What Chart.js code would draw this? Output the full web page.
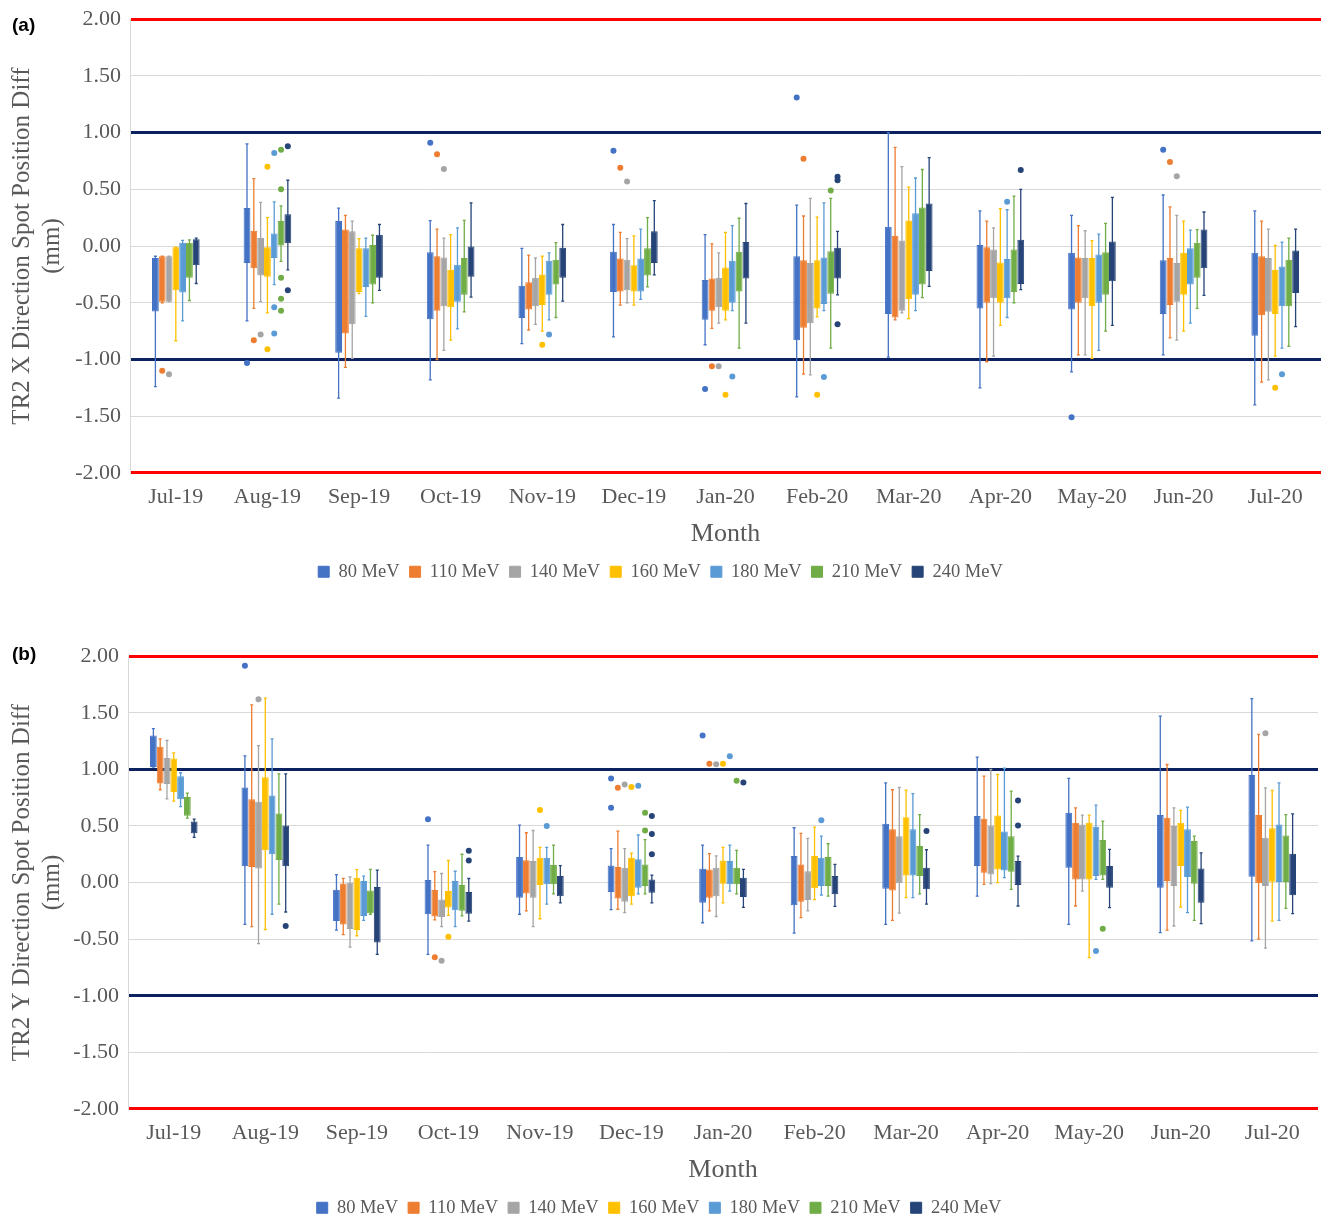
<!DOCTYPE html>
<html>
<head>
<meta charset="utf-8">
<script src="https://cdn.jsdelivr.net/npm/chart.js@4.4.1/dist/chart.umd.min.js"></script>
<style>
  body { margin: 0; background: #fff; overflow: hidden; }
  #wrap { position: relative; width: 1333px; height: 1217px; overflow: hidden; }
  canvas { position: absolute; left: 0; }
  .tag { position: absolute; left: 12px; font: bold 19px 'Liberation Sans', Arial, sans-serif; color: #000; }
</style>
</head>
<body>
<div id="wrap">
  <canvas id="chartX" width="1333" height="598" style="top:-3px"></canvas>
  <canvas id="chartY" width="1333" height="597" style="top:634px"></canvas>
  <div class="tag" style="top:14px">(a)</div>
  <div class="tag" style="top:643px">(b)</div>
</div>
<script>
const months = ['Jul-19', 'Aug-19', 'Sep-19', 'Oct-19', 'Nov-19', 'Dec-19', 'Jan-20',
  'Feb-20', 'Mar-20', 'Apr-20', 'May-20', 'Jun-20', 'Jul-20'];
const energies = ['80 MeV', '110 MeV', '140 MeV', '160 MeV', '180 MeV', '210 MeV', '240 MeV'];
const colors = ['#4472c4', '#ed7d31', '#a5a5a5', '#ffc000', '#5b9bd5', '#70ad47', '#264478'];

// (a) X direction - one row per energy, one value per month
const xHigh = [
  [-0.09, 0.90, 0.335, 0.225, -0.02, 0.19, 0.10, 0.36, 1.00, 0.31, 0.27, 0.45, 0.31],
  [-0.09, 0.594, 0.27, 0.15, -0.08, 0.12, 0.02, 0.265, 0.87, 0.22, 0.18, 0.345, 0.22],
  [-0.09, 0.385, 0.22, 0.07, -0.105, 0.065, -0.06, 0.42, 0.70, 0.16, 0.135, 0.27, 0.15],
  [-0.01, 0.25, 0.065, 0.10, -0.09, 0.09, 0.12, 0.255, 0.52, 0.33, 0.047, 0.22, 0.005],
  [0.05, 0.39, 0.07, 0.16, -0.06, 0.15, 0.18, 0.38, 0.60, 0.32, 0.105, 0.14, 0.035],
  [0.055, 0.355, 0.095, 0.226, 0.03, 0.25, 0.245, 0.42, 0.675, 0.44, 0.20, 0.145, 0.07],
  [0.07, 0.58, 0.19, 0.38, 0.19, 0.40, 0.375, 0.13, 0.78, 0.50, 0.43, 0.30, 0.15]
];
const xQ3 = [
  [-0.106, 0.335, 0.22, -0.055, -0.35, -0.05, -0.30, -0.09, 0.17, 0.01, -0.06, -0.125, -0.06],
  [-0.09, 0.135, 0.145, -0.09, -0.32, -0.11, -0.285, -0.125, 0.09, -0.01, -0.10, -0.105, -0.09],
  [-0.09, 0.07, 0.13, -0.10, -0.28, -0.12, -0.28, -0.15, 0.05, -0.03, -0.105, -0.15, -0.105],
  [-0.01, -0.01, -0.02, -0.21, -0.25, -0.17, -0.19, -0.125, 0.225, -0.145, -0.105, -0.06, -0.21],
  [0.03, 0.11, -0.02, -0.165, -0.13, -0.11, -0.13, -0.10, 0.29, -0.115, -0.075, -0.02, -0.18],
  [0.03, 0.22, 0.01, -0.105, -0.12, -0.02, -0.05, -0.045, 0.34, -0.03, -0.055, 0.03, -0.12],
  [0.06, 0.28, 0.10, 0.00, -0.015, 0.13, 0.035, -0.015, 0.375, 0.055, 0.04, 0.145, -0.04]
];
const xQ1 = [
  [-0.576, -0.15, -0.94, -0.645, -0.635, -0.405, -0.65, -0.83, -0.60, -0.55, -0.56, -0.60, -0.79],
  [-0.49, -0.195, -0.77, -0.57, -0.56, -0.40, -0.57, -0.72, -0.63, -0.50, -0.50, -0.52, -0.61],
  [-0.49, -0.26, -0.69, -0.53, -0.53, -0.39, -0.54, -0.68, -0.57, -0.46, -0.46, -0.49, -0.58],
  [-0.39, -0.27, -0.405, -0.54, -0.52, -0.40, -0.57, -0.55, -0.47, -0.50, -0.53, -0.43, -0.60],
  [-0.41, -0.105, -0.36, -0.49, -0.43, -0.40, -0.50, -0.51, -0.43, -0.46, -0.50, -0.34, -0.53],
  [-0.28, 0.00, -0.34, -0.43, -0.34, -0.26, -0.40, -0.42, -0.34, -0.405, -0.43, -0.28, -0.53],
  [-0.17, 0.025, -0.28, -0.27, -0.28, -0.15, -0.285, -0.285, -0.22, -0.335, -0.31, -0.195, -0.415]
];
const xLow = [
  [-1.24, -0.66, -1.34, -1.18, -0.86, -0.80, -0.87, -1.33, -0.98, -1.25, -1.11, -0.96, -1.40],
  [-0.50, -0.55, -1.07, -1.00, -0.74, -0.52, -0.725, -1.13, -0.65, -1.02, -0.96, -0.81, -1.20],
  [-0.49, -0.49, -0.99, -0.92, -0.69, -0.50, -0.68, -1.135, -0.59, -0.97, -0.96, -0.83, -1.18],
  [-0.835, -0.59, -0.42, -0.83, -0.75, -0.52, -0.65, -0.625, -0.64, -0.70, -0.99, -0.75, -0.97],
  [-0.66, -0.34, -0.62, -0.73, -0.65, -0.47, -0.57, -0.57, -0.57, -0.63, -0.92, -0.68, -0.90],
  [-0.48, -0.135, -0.50, -0.58, -0.63, -0.36, -0.90, -0.90, -0.455, -0.50, -0.75, -0.55, -0.885],
  [-0.33, -0.21, -0.39, -0.45, -0.485, -0.255, -0.68, -0.43, -0.355, -0.385, -0.70, -0.435, -0.71]
];
// outliers as [month index, value]
const xOutliers = [
  [[1, -1.03], [3, 0.91], [5, 0.84], [6, -1.26], [7, 1.31], [10, -1.51], [11, 0.85]],
  [[0, -1.10], [1, -0.83], [3, 0.81], [5, 0.69], [6, -1.06], [7, 0.77], [11, 0.74]],
  [[0, -1.13], [1, -0.78], [3, 0.68], [5, 0.57], [6, -1.06], [11, 0.615]],
  [[1, 0.70], [1, -0.91], [4, -0.87], [6, -1.31], [7, -1.31], [12, -1.25]],
  [[1, 0.82], [1, -0.54], [1, -0.77], [4, -0.78], [6, -1.15], [7, -1.155], [9, 0.39], [12, -1.13]],
  [[1, 0.85], [1, 0.50], [1, -0.28], [1, -0.465], [1, -0.57], [7, 0.49]],
  [[1, 0.88], [1, -0.39], [7, 0.61], [7, 0.58], [7, -0.69], [9, 0.67]]
];

// (b) Y direction
const yHigh = [
  [1.36, 1.12, 0.07, 0.33, 0.508, 0.30, 0.33, 0.484, 0.88, 1.108, 0.92, 1.47, 1.626],
  [1.27, 1.57, 0.037, 0.096, 0.44, 0.455, 0.255, 0.434, 0.82, 0.94, 0.66, 1.043, 1.31],
  [1.255, 1.21, 0.05, 0.08, 0.46, 0.30, 0.235, 0.39, 0.84, 1.00, 0.596, 0.66, 0.837],
  [1.145, 1.63, 0.115, 0.195, 0.31, 0.26, 0.31, 0.49, 0.817, 0.955, 0.596, 0.637, 0.814],
  [0.97, 1.27, 0.057, 0.10, 0.31, 0.42, 0.33, 0.41, 0.785, 1.01, 0.684, 0.666, 0.88],
  [0.79, 0.96, 0.116, 0.25, 0.33, 0.38, 0.285, 0.343, 0.60, 0.807, 0.543, 0.41, 0.60],
  [0.56, 0.96, 0.11, 0.036, 0.15, 0.066, 0.116, 0.16, 0.29, 0.234, 0.293, 0.263, 0.607]
];
const yQ3 = [
  [1.30, 0.84, -0.063, 0.022, 0.225, 0.15, 0.122, 0.234, 0.52, 0.587, 0.617, 0.596, 0.95],
  [1.20, 0.735, -0.008, -0.066, 0.196, 0.137, 0.116, 0.16, 0.47, 0.564, 0.528, 0.573, 0.596],
  [1.10, 0.715, -0.002, -0.15, 0.19, 0.13, 0.13, 0.10, 0.41, 0.505, 0.513, 0.499, 0.396],
  [1.095, 0.93, 0.043, -0.075, 0.22, 0.22, 0.195, 0.234, 0.578, 0.593, 0.528, 0.528, 0.479],
  [0.94, 0.77, 0.013, 0.013, 0.22, 0.205, 0.19, 0.22, 0.47, 0.45, 0.493, 0.47, 0.513],
  [0.755, 0.61, -0.07, -0.022, 0.155, 0.16, 0.13, 0.225, 0.322, 0.41, 0.375, 0.367, 0.416],
  [0.54, 0.505, -0.04, -0.084, 0.057, 0.028, 0.043, 0.057, 0.13, 0.19, 0.146, 0.125, 0.255]
];
const yQ1 = [
  [1.02, 0.145, -0.34, -0.28, -0.134, -0.084, -0.178, -0.20, -0.054, 0.146, 0.13, -0.046, 0.052],
  [0.875, 0.137, -0.37, -0.30, -0.096, -0.14, -0.134, -0.17, -0.07, 0.087, 0.028, 0.013, -0.007],
  [0.87, 0.125, -0.41, -0.305, -0.134, -0.17, -0.12, -0.155, -0.007, 0.072, 0.028, -0.031, -0.031],
  [0.80, 0.285, -0.42, -0.22, -0.022, -0.12, -0.01, -0.05, 0.063, 0.116, 0.028, 0.146, 0.007],
  [0.735, 0.25, -0.296, -0.245, -0.016, -0.046, -0.016, -0.03, 0.063, 0.107, 0.057, 0.049, 0.00],
  [0.59, 0.20, -0.272, -0.25, -0.016, -0.03, -0.016, -0.03, 0.057, 0.096, 0.063, -0.01, 0.00],
  [0.435, 0.145, -0.53, -0.275, -0.12, -0.09, -0.128, -0.104, -0.06, -0.022, -0.046, -0.178, -0.113]
];
const yLow = [
  [1.02, -0.37, -0.42, -0.635, -0.28, -0.24, -0.355, -0.446, -0.37, -0.12, -0.37, -0.443, -0.516],
  [0.82, -0.39, -0.46, -0.33, -0.25, -0.236, -0.25, -0.31, -0.334, -0.016, -0.207, -0.42, -0.50],
  [0.74, -0.54, -0.57, -0.39, -0.39, -0.266, -0.30, -0.25, -0.27, -0.01, -0.075, -0.384, -0.58],
  [0.72, -0.415, -0.47, -0.29, -0.32, -0.19, -0.18, -0.15, -0.134, 0.00, -0.664, -0.216, -0.34],
  [0.67, -0.28, -0.335, -0.39, -0.19, -0.10, -0.075, -0.11, -0.134, 0.043, 0.028, -0.266, -0.334],
  [0.57, -0.19, -0.28, -0.295, -0.10, -0.10, -0.10, -0.12, -0.10, -0.06, 0.028, -0.334, -0.228],
  [0.40, -0.26, -0.635, -0.34, -0.18, -0.18, -0.22, -0.21, -0.19, -0.207, -0.222, -0.363, -0.275]
];
const yOutliers = [
  [[1, 1.915], [3, 0.56], [5, 0.92], [5, 0.66], [6, 1.30]],
  [[3, -0.66], [5, 0.837], [6, 1.05]],
  [[1, 1.62], [3, -0.69], [5, 0.867], [6, 1.045], [12, 1.32]],
  [[3, -0.48], [4, 0.64], [5, 0.845], [6, 1.05]],
  [[4, 0.50], [5, 0.855], [6, 1.117], [7, 0.55], [10, -0.605]],
  [[5, 0.617], [5, 0.46], [6, 0.90], [10, -0.408]],
  [[1, -0.385], [3, 0.28], [3, 0.195], [5, 0.587], [5, 0.43], [5, 0.25], [6, 0.885], [8, 0.455], [9, 0.725], [9, 0.505]]
];

const serif = "'Liberation Serif', 'Times New Roman', serif";
const textGray = '#595959';

// whiskers under the boxes, outlier dots on top
const boxPlot = {
  id: 'boxPlot',
  beforeDatasetsDraw(chart) {
    const ctx = chart.ctx;
    const y = chart.scales.y;
    chart.data.datasets.forEach((ds, d) => {
      const meta = chart.getDatasetMeta(d);
      ctx.save();
      ctx.strokeStyle = ds.backgroundColor;
      ctx.lineWidth = 1.3;
      meta.data.forEach((bar, i) => {
        const top = y.getPixelForValue(ds.whiskers[i][1]);
        const bottom = y.getPixelForValue(ds.whiskers[i][0]);
        ctx.beginPath();
        ctx.moveTo(bar.x, top);
        ctx.lineTo(bar.x, bottom);
        ctx.moveTo(bar.x - 1.5, top);
        ctx.lineTo(bar.x + 1.5, top);
        ctx.moveTo(bar.x - 1.5, bottom);
        ctx.lineTo(bar.x + 1.5, bottom);
        ctx.stroke();
      });
      ctx.restore();
    });
  },
  afterDatasetsDraw(chart) {
    const ctx = chart.ctx;
    const y = chart.scales.y;
    chart.data.datasets.forEach((ds, d) => {
      const meta = chart.getDatasetMeta(d);
      ctx.save();
      ctx.fillStyle = ds.backgroundColor;
      ds.outliers.forEach(([i, v]) => {
        ctx.beginPath();
        ctx.arc(meta.data[i].x, y.getPixelForValue(v), 3, 0, Math.PI * 2);
        ctx.fill();
      });
      ctx.restore();
    });
  }
};

function gridColor(c) {
  const v = c.tick ? c.tick.value : null;
  if (v === 2 || v === -2) return '#ff0000';
  if (v === 1 || v === -1) return '#0b2160';
  return '#d9d9d9';
}
function gridWidth(c) {
  const v = c.tick ? Math.abs(c.tick.value) : 0;
  return (v === 1 || v === 2) ? 3 : 1;
}

function makeChart(id, yTitle, high, q3, q1, low, outliers, axisWidth, padRight) {
  return new Chart(document.getElementById(id), {
    type: 'bar',
    data: {
      labels: months,
      datasets: energies.map((name, e) => ({
        label: name,
        data: months.map((m, i) => [q1[e][i], q3[e][i]]),
        whiskers: months.map((m, i) => [low[e][i], high[e][i]]),
        outliers: outliers[e],
        backgroundColor: colors[e],
        borderColor: colors[e],
        borderWidth: 1,
        borderSkipped: false,
        categoryPercentage: 0.52,
        barPercentage: 1
      }))
    },
    options: {
      responsive: false,
      animation: false,
      layout: { padding: { top: 4, right: padRight, bottom: 4, left: 0 } },
      plugins: {
        tooltip: { enabled: false },
        legend: {
          position: 'bottom',
          labels: {
            boxWidth: 11, boxHeight: 11, padding: 10,
            color: textGray, font: { family: serif, size: 18.5 }
          }
        }
      },
      scales: {
        x: {
          grid: { display: false },
          border: { display: false },
          ticks: { color: textGray, font: { family: serif, size: 22 }, padding: 3, maxRotation: 0, autoSkip: false },
          title: { display: true, text: 'Month', color: textGray, font: { family: serif, size: 26 }, padding: { top: 5, bottom: 3 } }
        },
        y: {
          min: -2, max: 2,
          afterFit: scale => { scale.width = axisWidth; },
          grid: { color: gridColor, lineWidth: gridWidth, drawTicks: false },
          border: { display: true, color: '#d9d9d9' },
          ticks: { stepSize: 0.5, padding: 9, color: textGray, font: { family: serif, size: 22 },
            callback: v => v.toFixed(2) },
          title: { display: true, text: [yTitle, '(mm)'], color: textGray,
            font: { family: serif, size: 25 }, padding: { top: 7, bottom: 0 } }
        }
      }
    },
    plugins: [boxPlot]
  });
}

makeChart('chartX', 'TR2 X Direction Spot Position Diff', xHigh, xQ3, xQ1, xLow, xOutliers, 130, 12);
makeChart('chartY', 'TR2 Y Direction Spot Position Diff', yHigh, yQ3, yQ1, yLow, yOutliers, 128, 15);
</script>
</body>
</html>
